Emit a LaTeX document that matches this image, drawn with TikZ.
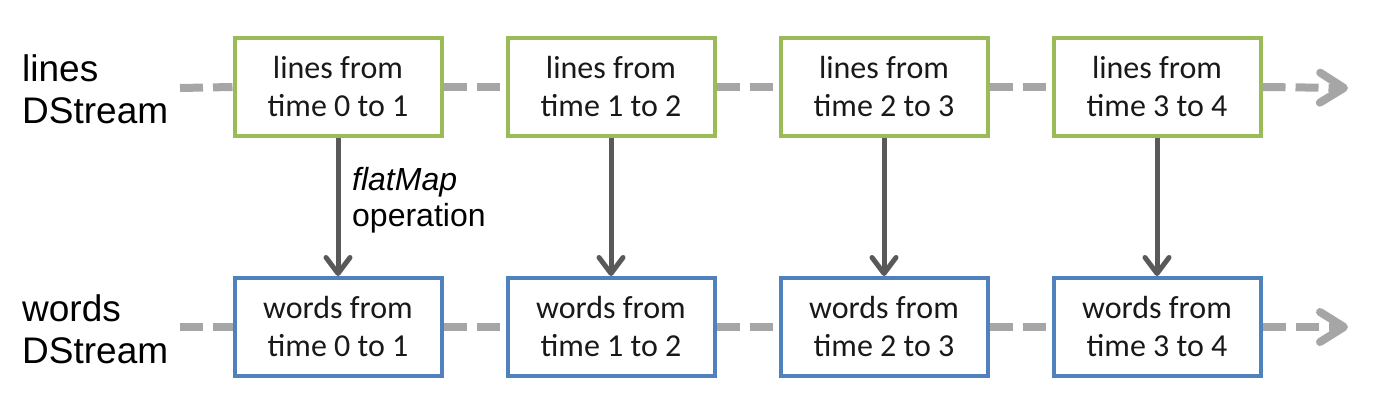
\documentclass[tikz,border=0pt]{standalone}
\usepackage{fontspec}
\setmainfont{Carlito}
\newfontfamily\arialfont{Liberation Sans}
\usetikzlibrary{arrows.meta}
\definecolor{boxgreen}{HTML}{9BBB59}
\definecolor{boxblue}{HTML}{4F81BD}
\definecolor{streamgray}{HTML}{A6A6A6}
\definecolor{opgray}{HTML}{595959}
\tikzset{
  batch/.style={draw, line width=4pt, fill=white, minimum width=207pt, minimum height=98pt,
    inner sep=0pt, align=center, font=\fontsize{32}{38}\selectfont, text=black!90},
  linesbox/.style={batch, draw=boxgreen},
  wordsbox/.style={batch, draw=boxblue},
  stream/.style={draw=streamgray, line width=8pt, dash pattern=on 23pt off 10pt},
  streamtip/.style={-{Straight Barb[length=24pt, width=30pt, line cap=round, line join=round]}},
  op/.style={draw=opgray, line width=5pt, -{Straight Barb[length=16pt, width=24pt, line cap=round, line join=round]}},
  rowlabel/.style={anchor=west, align=left, inner sep=0pt, font=\arialfont\fontsize{37}{42}\selectfont},
  oplabel/.style={anchor=north west, align=left, inner sep=0pt, font=\arialfont\fontsize{32}{36}\selectfont}
}
\begin{document}
\begin{tikzpicture}[x=1pt, y=-1pt]
\useasboundingbox (0,0) rectangle (1400,401);
% row labels
\node[rowlabel] (lbl1) at (22,89) {lines\\DStream};
\node[rowlabel] (lbl2) at (22,329) {words\\DStream};
% boxes
\node[linesbox] (l1) at (338,87) {lines from\\time 0 to 1};
\node[linesbox] (l2) at (611,87) {lines from\\time 1 to 2};
\node[linesbox] (l3) at (884,87) {lines from\\time 2 to 3};
\node[linesbox] (l4) at (1157,87) {lines from\\time 3 to 4};
\node[wordsbox] (w1) at (338,327) {words from\\time 0 to 1};
\node[wordsbox] (w2) at (611,327) {words from\\time 1 to 2};
\node[wordsbox] (w3) at (884,327) {words from\\time 2 to 3};
\node[wordsbox] (w4) at (1157,327) {words from\\time 3 to 4};
% stream ends
\coordinate (ls) at (180,88);
\coordinate (le) at (1348,88);
\coordinate (ws) at (180,327);
\coordinate (we) at (1348,327);
% streams
\draw[stream] (ls) -- (l1.west);
\draw[stream] (l1.east) -- (l2.west);
\draw[stream] (l2.east) -- (l3.west);
\draw[stream] (l3.east) -- (l4.west);
\draw[stream, streamtip] (l4.east) -- (le);
\draw[stream] (ws) -- (w1.west);
\draw[stream] (w1.east) -- (w2.west);
\draw[stream] (w2.east) -- (w3.west);
\draw[stream] (w3.east) -- (w4.west);
\draw[stream, streamtip] (w4.east) -- (we);
% operations
\draw[op] (l1) -- (w1);
\draw[op] (l2) -- (w2);
\draw[op] (l3) -- (w3);
\draw[op] (l4) -- (w4);
\node[oplabel] (oplbl) at (352,167) {\itshape flatMap\\operation};
\end{tikzpicture}
\end{document}
